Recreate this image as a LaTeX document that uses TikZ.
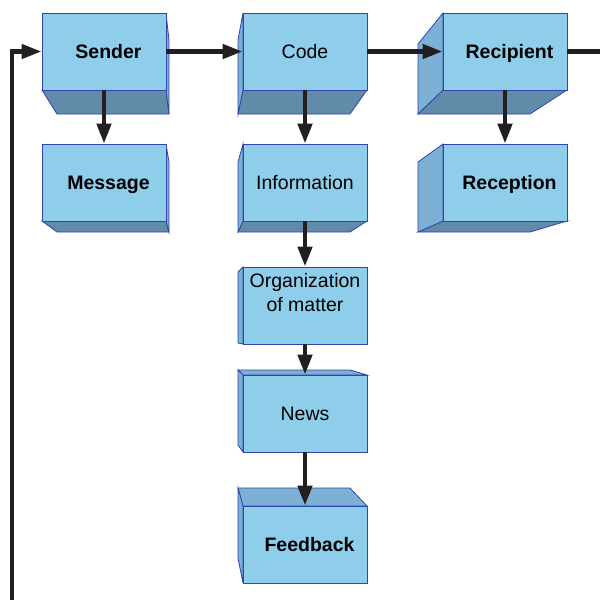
\documentclass[tikz,border=0pt]{standalone}
\usepackage{fontspec}
\setmainfont{Liberation Sans}
\usetikzlibrary{arrows.meta}
\definecolor{frontc}{RGB}{143,206,235}
\definecolor{bottomc}{RGB}{96,140,170}
\definecolor{sidec}{RGB}{124,177,213}
\definecolor{edgec}{RGB}{51,68,170}
\definecolor{arrowc}{RGB}{35,31,32}

\begin{document}
\begin{tikzpicture}[x=1pt,y=-1pt,
  box/.style={draw=edgec, fill=frontc, line width=0.8pt, minimum width=124pt,
    minimum height=77pt, inner sep=0pt, text height=15pt, text depth=2pt,
    font=\fontsize{19.5}{24}\selectfont},
  boldbox/.style={box, font=\fontsize{19.5}{24}\selectfont\bfseries,
    execute at begin node={\hspace*{9pt}}},
  bottomface/.style={draw=edgec, fill=bottomc, line width=0.8pt},
  sideface/.style={draw=edgec, fill=sidec, line width=0.8pt},
  flow/.style={line width=4.5pt, draw=arrowc, -{Triangle[length=20pt,width=14pt]}}]
\useasboundingbox (0,0) rectangle (600,600);

% depth faces
\draw [bottomface] (42,90) -- (166,90) -- (169,114) -- (57,114) -- cycle;
\draw [sideface] (166,13) -- (169,40) -- (169,114) -- (166,90) -- cycle;
\draw [bottomface] (42,221) -- (166,221) -- (169,232) -- (57,232) -- cycle;
\draw [sideface] (166,144) -- (169,162) -- (169,232) -- (166,221) -- cycle;
\draw [bottomface] (243,90) -- (367,90) -- (350,114) -- (238,114) -- cycle;
\draw [sideface] (243,13) -- (238,40) -- (238,114) -- (243,90) -- cycle;
\draw [bottomface] (243,221) -- (367,221) -- (350,232) -- (238,232) -- cycle;
\draw [sideface] (243,144) -- (238,162) -- (238,232) -- (243,221) -- cycle;
\draw [bottomface] (443,90) -- (567,90) -- (530,114) -- (418,114) -- cycle;
\draw [sideface] (443,13) -- (418,44) -- (418,114) -- (443,90) -- cycle;
\draw [bottomface] (443,221) -- (567,221) -- (530,232) -- (418,232) -- cycle;
\draw [sideface] (443,144) -- (418,162) -- (418,232) -- (443,221) -- cycle;
\draw [sideface] (243,267) -- (238,272) -- (238,343) -- (243,344) -- cycle;
\draw [sideface] (238,370) -- (350,370) -- (367,375) -- (243,375) -- cycle;
\draw [sideface] (243,375) -- (238,370) -- (238,445) -- (243,452) -- cycle;
\draw [sideface] (238,488) -- (350,488) -- (367,506) -- (243,506) -- cycle;
\draw [sideface] (238,488) -- (243,506) -- (243,583) -- (238,558) -- cycle;

% front faces
\node [boldbox] (sender) at (104,51.5) {Sender};
\node [boldbox] (message) at (104,182.5) {Message};
\node [box] (code) at (305,51.5) {Code};
\node [box] (info) at (305,182.5) {Information};
\node [boldbox] (recipient) at (505,51.5) {Recipient};
\node [boldbox] (reception) at (505,182.5) {Reception};
\node [box, label={[anchor=north, align=center, inner sep=7pt,
    font=\fontsize{19.5}{24}\selectfont]north:Organization\\of matter}] (org) at (305,305.5) {};
\node [box] (news) at (305,413.5) {News};
\node [boldbox] (feedback) at (305,544.5) {Feedback};
\coordinate (loopstart) at (12,600);
\coordinate (exit) at (600,51.5);

% connectors
\draw [flow] (sender) -- (code);
\draw [flow] (code) -- (recipient);
\draw [line width=4.5pt, draw=arrowc] (recipient) -- (exit);
\draw [flow] (sender) -- (message);
\draw [flow] (code) -- (info);
\draw [flow] (recipient) -- (reception);
\draw [flow] (info) -- (org);
\draw [flow] (org) -- (news);
\draw [flow] (news) -- (feedback);
\draw [flow] (loopstart) |- (sender);
\end{tikzpicture}
\end{document}
